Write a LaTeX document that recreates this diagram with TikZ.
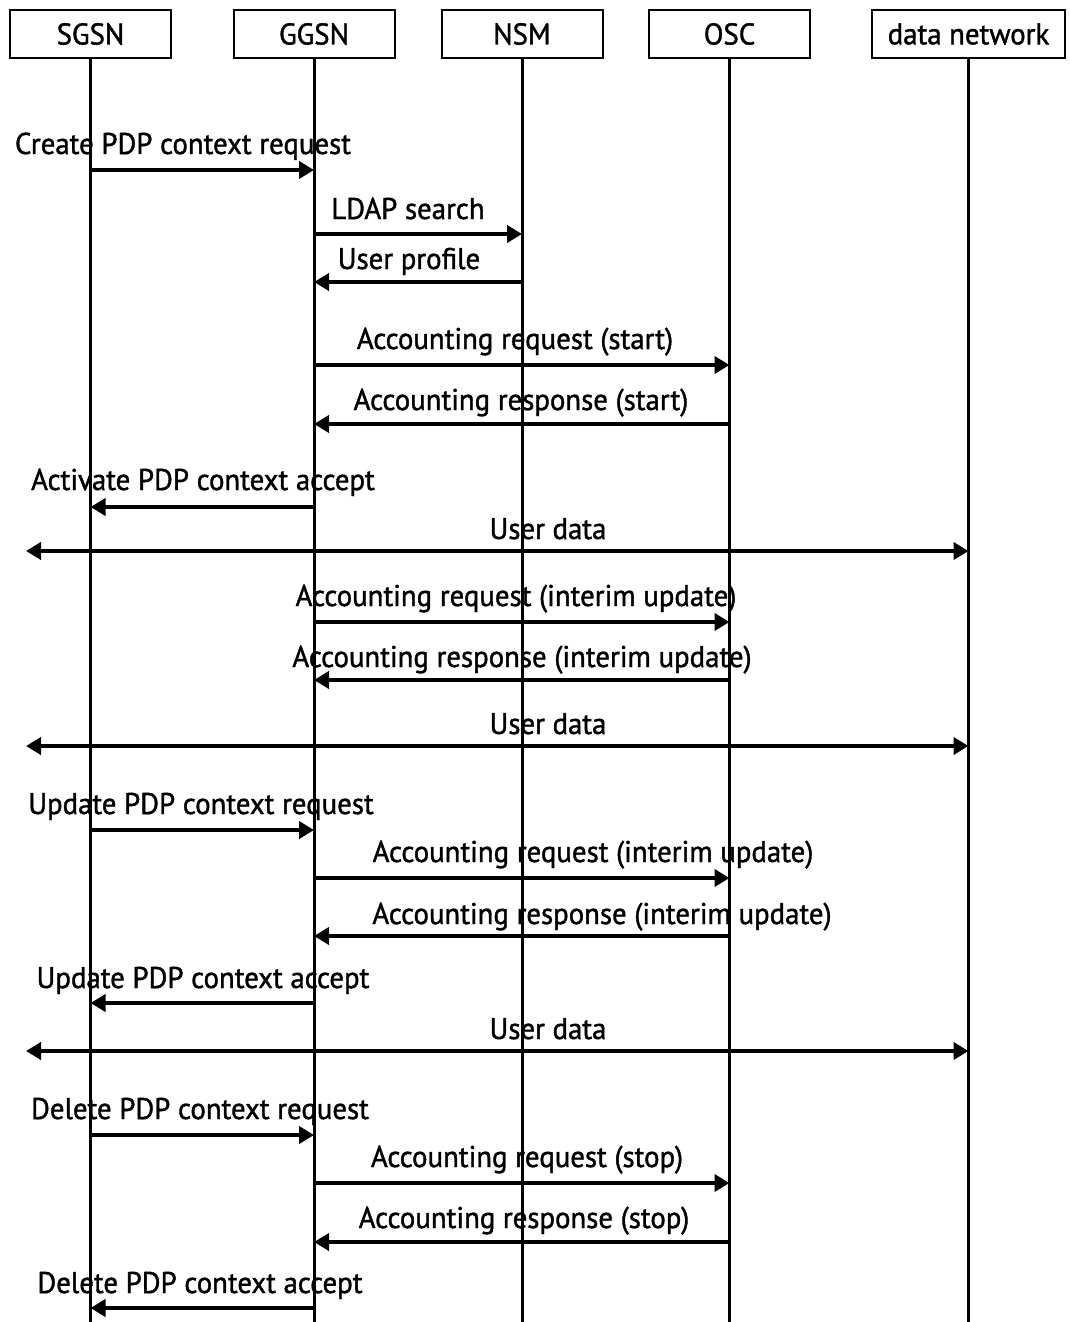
\documentclass[tikz,border=0pt]{standalone}
\usepackage{fontspec}
\setmainfont{PT Sans}[FakeStretch=0.96,FakeBold=1.3]
\usetikzlibrary{arrows.meta}
\begin{document}
\begin{tikzpicture}[x=0.5pt,y=-0.5pt,
  actor/.style={draw,line width=1pt,minimum height=24pt,inner sep=0pt,font=\fontsize{15}{18}\selectfont},
  life/.style={line width=1.5pt},
  msg/.style={line width=2pt,-{Triangle[length=7.5pt,width=8.5pt]}},
  bidir/.style={line width=2pt,{Triangle[length=7.5pt,width=8.5pt]}-{Triangle[length=7.5pt,width=8.5pt]}},
  lbl/.style={anchor=base,inner sep=0pt,font=\fontsize{15}{18}\selectfont}]
\useasboundingbox (0,0) rectangle (1070,1322);

% participants
\node[actor,minimum width=80.5pt] (sgsn) at (90.5,34) {SGSN};
\node[actor,minimum width=80.5pt] (ggsn) at (314,34) {GGSN};
\node[actor,minimum width=80.5pt] (nsm)  at (522,34) {NSM};
\node[actor,minimum width=80.5pt] (osc)  at (729.5,34) {OSC};
\node[actor,minimum width=96.5pt] (dn)   at (968.5,34) {data network};

% lifelines
\coordinate (sgsnE) at (sgsn.south |- 0,1322);
\coordinate (ggsnE) at (ggsn.south |- 0,1322);
\coordinate (nsmE)  at (nsm.south |- 0,1322);
\coordinate (oscE)  at (osc.south |- 0,1322);
\coordinate (dnE)   at (dn.south |- 0,1322);
\draw[life] (sgsn.south) -- (sgsnE);
\draw[life] (ggsn.south) -- (ggsnE);
\draw[life] (nsm.south) -- (nsmE);
\draw[life] (osc.south) -- (oscE);
\draw[life] (dn.south) -- (dnE);

% left end of the user data flows
\coordinate (ue1) at (26,551);
\coordinate (ue2) at (26,746);
\coordinate (ue3) at (26,1051);

% messages
\draw[msg] (sgsn.south |- 0,170) -- (ggsn.south |- 0,170);
\node[lbl] (m1) at (183,154) {Create PDP context request};

\draw[msg] (ggsn.south |- 0,234) -- (nsm.south |- 0,234);
\node[lbl] (m2) at (408,219) {LDAP search};

\draw[msg] (nsm.south |- 0,282) -- (ggsn.south |- 0,282);
\node[lbl] (m3) at (409,269) {User profile};

\draw[msg] (ggsn.south |- 0,365) -- (osc.south |- 0,365);
\node[lbl] (m4) at (515,349) {Accounting request (start)};

\draw[msg] (osc.south |- 0,424) -- (ggsn.south |- 0,424);
\node[lbl] (m5) at (521,410) {Accounting response (start)};

\draw[msg] (ggsn.south |- 0,507) -- (sgsn.south |- 0,507);
\node[lbl] (m6) at (203,490) {Activate PDP context accept};

\draw[bidir] (ue1) -- (dn.south |- ue1);
\node[lbl] (m7) at (548,539) {User data};

\draw[msg] (ggsn.south |- 0,622) -- (osc.south |- 0,622);
\node[lbl] (m8) at (516,606) {Accounting request (interim update)};

\draw[msg] (osc.south |- 0,680) -- (ggsn.south |- 0,680);
\node[lbl] (m9) at (522,667) {Accounting response (interim update)};

\draw[bidir] (ue2) -- (dn.south |- ue2);
\node[lbl] (m10) at (548,734) {User data};

\draw[msg] (sgsn.south |- 0,830) -- (ggsn.south |- 0,830);
\node[lbl] (m11) at (201,814) {Update PDP context request};

\draw[msg] (ggsn.south |- 0,878) -- (osc.south |- 0,878);
\node[lbl] (m12) at (593,862) {Accounting request (interim update)};

\draw[msg] (osc.south |- 0,936) -- (ggsn.south |- 0,936);
\node[lbl] (m13) at (602,924) {Accounting response (interim update)};

\draw[msg] (ggsn.south |- 0,1003) -- (sgsn.south |- 0,1003);
\node[lbl] (m14) at (203,988) {Update PDP context accept};

\draw[bidir] (ue3) -- (dn.south |- ue3);
\node[lbl] (m15) at (548,1039) {User data};

\draw[msg] (sgsn.south |- 0,1135) -- (ggsn.south |- 0,1135);
\node[lbl] (m16) at (200,1119) {Delete PDP context request};

\draw[msg] (ggsn.south |- 0,1183) -- (osc.south |- 0,1183);
\node[lbl] (m17) at (527,1167) {Accounting request (stop)};

\draw[msg] (osc.south |- 0,1242) -- (ggsn.south |- 0,1242);
\node[lbl] (m18) at (524,1228) {Accounting response (stop)};

\draw[msg] (ggsn.south |- 0,1308) -- (sgsn.south |- 0,1308);
\node[lbl] (m19) at (200,1293) {Delete PDP context accept};
\end{tikzpicture}
\end{document}
